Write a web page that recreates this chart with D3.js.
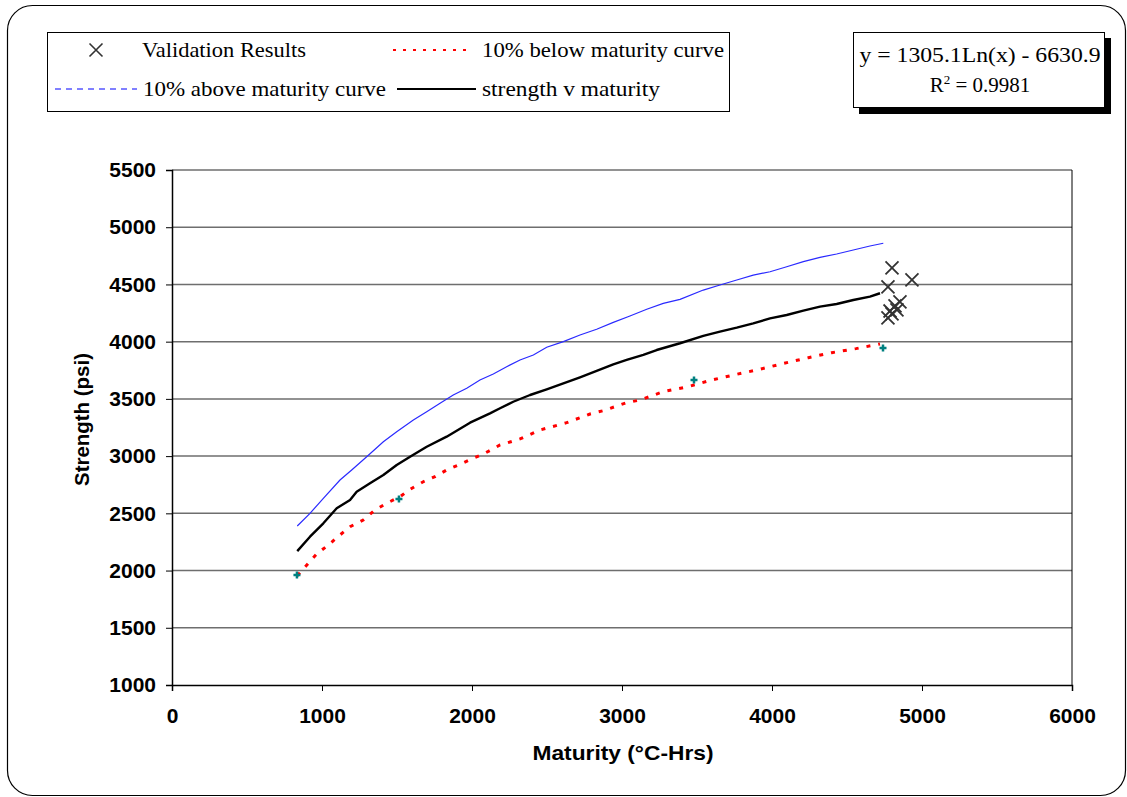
<!DOCTYPE html>
<html>
<head>
<meta charset="utf-8">
<script src="https://cdn.jsdelivr.net/npm/d3@7"></script>
<style>
  body { margin: 0; background: #fff; }
  svg { display: block; }
  .tick-label { font-family: "Liberation Sans", Arial, sans-serif; font-weight: bold; font-size: 21px; }
  .axis-title { font-family: "Liberation Sans", Arial, sans-serif; font-weight: bold; font-size: 21px; }
  .legend-text { font-family: "Liberation Serif", "Times New Roman", serif; font-size: 21px; }
</style>
</head>
<body>
<div id="chart"></div>
<script>
// strength v maturity (measured curve) - maturity in °C-Hrs, strength in psi
const strengthMaturity = [835, 920, 1009, 1098, 1187, 1231, 1320, 1409, 1498, 1587, 1698, 1831, 1987, 2120,
  2187, 2275, 2387, 2498, 2609, 2720, 2831, 2942, 3031, 3142, 3231, 3387, 3542, 3653, 3765, 3875, 3987,
  4098, 4209, 4320, 4431, 4542, 4653, 4720];
const strengthValues = [2170, 2296, 2413, 2544, 2617, 2689, 2762, 2835, 2922, 2995, 3082, 3170, 3292, 3374,
  3418, 3475, 3534, 3584, 3636, 3689, 3744, 3802, 3840, 3884, 3927, 3986, 4050, 4087, 4122, 4160, 4204,
  4233, 4271, 4306, 4329, 4364, 4393, 4423];

// 10% above maturity curve
const aboveMaturity = [835, 920, 1009, 1120, 1198, 1298, 1409, 1498, 1609, 1698, 1787, 1875, 1965, 2053,
  2142, 2231, 2320, 2409, 2498, 2609, 2720, 2831, 2942, 3053, 3165, 3275, 3387, 3542, 3653, 3765, 3875,
  3987, 4098, 4209, 4320, 4431, 4542, 4653, 4742];
const aboveValues = [2389, 2500, 2631, 2791, 2879, 2995, 3126, 3213, 3316, 3388, 3462, 3534, 3593, 3665,
  3718, 3781, 3840, 3884, 3951, 4000, 4058, 4108, 4169, 4224, 4283, 4335, 4370, 4451, 4495, 4539, 4582,
  4611, 4655, 4699, 4737, 4766, 4801, 4836, 4860];

// 10% below maturity curve
const belowMaturity = [835, 965, 1042, 1120, 1187, 1275, 1353, 1431, 1520, 1587, 1675, 1753, 1831, 1920,
  1998, 2075, 2187, 2320, 2453, 2631, 2787, 2875, 3031, 3120, 3275, 3442, 3598, 3765, 3920, 4080, 4242,
  4398, 4560, 4720];
const belowValues = [1955, 2145, 2223, 2311, 2383, 2442, 2529, 2588, 2645, 2710, 2776, 2820, 2879, 2928,
  2975, 3018, 3097, 3150, 3228, 3292, 3368, 3397, 3467, 3490, 3563, 3607, 3665, 3715, 3759, 3811, 3860,
  3904, 3939, 3980];

// small cross markers on the lower curve
const markerMaturity = [833, 1513, 3480, 4740];
const markerValues = [1961, 2625, 3665, 3945];

// validation results
const validationMaturity = [4800, 4933, 4773, 4853, 4820, 4787, 4800, 4773, 4833];
const validationValues = [4644, 4539, 4478, 4347, 4312, 4268, 4242, 4207, 4277];

const xTicks = [0, 1000, 2000, 3000, 4000, 5000, 6000];
const yTicks = [1000, 1500, 2000, 2500, 3000, 3500, 4000, 4500, 5000, 5500];

const legendLabels = ["Validation Results", "10% below maturity curve", "10% above maturity curve", "strength v maturity"];
const equationLines = ["y = 1305.1Ln(x) - 6630.9", "0.9981"];

//make margins
const W = 1127, H = 797;
const margin = {top: 170, right: 55, bottom: 112, left: 172};
const width = W - margin.left - margin.right;
const height = H - margin.top - margin.bottom;

const svg = d3.select("#chart")
  .append("svg")
  .attr("width", W)
  .attr("height", H);

// outer rounded frame
svg.append("rect")
  .attr("x", 7.5).attr("y", 5.5)
  .attr("width", 1118).attr("height", 790)
  .attr("rx", 25).attr("ry", 25)
  .attr("fill", "none")
  .attr("stroke", "#000")
  .attr("stroke-width", 1.2);

const x = d3.scaleLinear().domain([0, 6000]).range([0, width]);
const y = d3.scaleLinear().domain([1000, 5500]).range([height, 0]);

const g = svg.append("g")
  .attr("transform", `translate(${margin.left},${margin.top})`);

//gridlines
g.append("g")
  .selectAll("line")
  .data(yTicks.slice(1))
  .join("line")
  .attr("x1", 0).attr("x2", width)
  .attr("y1", d => y(d)).attr("y2", d => y(d))
  .attr("stroke", "#6e6e6e")
  .attr("stroke-width", 1.5);

// right border of the plot area
g.append("line")
  .attr("x1", width).attr("x2", width)
  .attr("y1", 0).attr("y2", height)
  .attr("stroke", "#000").attr("stroke-width", 1);

//axes
const xAxis = g.append("g")
  .attr("transform", `translate(0,${height})`)
  .call(d3.axisBottom(x).tickValues(xTicks).tickSize(6).tickPadding(17).tickFormat(d3.format("d")));
const yAxis = g.append("g")
  .call(d3.axisLeft(y).tickValues(yTicks).tickSize(6).tickPadding(10).tickFormat(d3.format("d")));

[xAxis, yAxis].forEach(a => {
  a.select(".domain").attr("stroke", "#000").attr("stroke-width", 1.5);
  a.selectAll(".tick line").attr("stroke", "#000");
  a.selectAll(".tick text").attr("class", "tick-label").attr("fill", "#000");
});

//axis titles
svg.append("text")
  .attr("class", "axis-title")
  .attr("x", margin.left + width / 2 + 1)
  .attr("y", 760)
  .attr("text-anchor", "middle")
  .attr("textLength", 181)
  .attr("lengthAdjust", "spacingAndGlyphs")
  .text("Maturity (°C-Hrs)");

svg.append("text")
  .attr("class", "axis-title")
  .attr("transform", `translate(89,${margin.top + height / 2 - 8}) rotate(-90)`)
  .attr("text-anchor", "middle")
  .attr("textLength", 133)
  .attr("lengthAdjust", "spacingAndGlyphs")
  .text("Strength (psi)");

const line = d3.line().x(d => x(d[0])).y(d => y(d[1]));

// curves
g.append("path")
  .datum(d3.zip(aboveMaturity, aboveValues))
  .attr("fill", "none")
  .attr("stroke", "#2a2aff")
  .attr("stroke-width", 1.2)
  .attr("d", line);

g.append("path")
  .datum(d3.zip(belowMaturity, belowValues))
  .attr("fill", "none")
  .attr("stroke", "#ff0000")
  .attr("stroke-width", 3)
  .attr("stroke-dasharray", "4 8")
  .attr("d", line);

g.append("path")
  .datum(d3.zip(strengthMaturity, strengthValues))
  .attr("fill", "none")
  .attr("stroke", "#000")
  .attr("stroke-width", 2.4)
  .attr("stroke-linejoin", "round")
  .attr("d", line);

// teal plus markers
const plus = 3.5;
g.append("g")
  .selectAll("path")
  .data(d3.zip(markerMaturity, markerValues))
  .join("path")
  .attr("d", d => `M${x(d[0]) - plus},${y(d[1])}h${plus * 2}M${x(d[0])},${y(d[1]) - plus}v${plus * 2}`)
  .attr("stroke", "#008080")
  .attr("stroke-width", 2.5);

// X markers
const cross = 6.5;
const crossPath = (cx, cy) => `M${cx - cross},${cy - cross}L${cx + cross},${cy + cross}M${cx - cross},${cy + cross}L${cx + cross},${cy - cross}`;
g.append("g")
  .selectAll("path")
  .data(d3.zip(validationMaturity, validationValues))
  .join("path")
  .attr("d", d => crossPath(x(d[0]), y(d[1])))
  .attr("stroke", "#333")
  .attr("stroke-width", 1.8);

//legend box
const legend = svg.append("g");
legend.append("rect")
  .attr("x", 47.5).attr("y", 32.5)
  .attr("width", 682).attr("height", 79)
  .attr("fill", "#fff").attr("stroke", "#000").attr("stroke-width", 1);

legend.append("path")
  .attr("d", crossPath(96, 50))
  .attr("stroke", "#333").attr("stroke-width", 1.6);
legend.append("line")
  .attr("x1", 393).attr("x2", 471).attr("y1", 50).attr("y2", 50)
  .attr("stroke", "#ff0000").attr("stroke-width", 2).attr("stroke-dasharray", "3 7");
legend.append("line")
  .attr("x1", 55).attr("x2", 137).attr("y1", 89).attr("y2", 89)
  .attr("stroke", "#0000ff").attr("stroke-width", 1).attr("stroke-dasharray", "6 5");
legend.append("line")
  .attr("x1", 397).attr("x2", 476).attr("y1", 89).attr("y2", 89)
  .attr("stroke", "#000").attr("stroke-width", 2.2);

// label positions and widths as in the picture
const legendPos = [[142, 57, 164], [482, 57, 242], [143, 96, 243], [482, 96, 178]];
legend.selectAll(".legend-label")
  .data(legendLabels)
  .join("text")
  .attr("class", "legend-text")
  .attr("x", (d, i) => legendPos[i][0])
  .attr("y", (d, i) => legendPos[i][1])
  .attr("textLength", (d, i) => legendPos[i][2])
  .attr("lengthAdjust", "spacingAndGlyphs")
  .text(d => d);

//equation box with shadow
const eq = svg.append("g");
eq.append("rect")
  .attr("x", 859).attr("y", 38)
  .attr("width", 252).attr("height", 76)
  .attr("fill", "#000");
eq.append("rect")
  .attr("x", 853.5).attr("y", 32.5)
  .attr("width", 251).attr("height", 75)
  .attr("fill", "#fff").attr("stroke", "#000").attr("stroke-width", 1);
eq.append("text")
  .attr("class", "legend-text")
  .attr("x", 980).attr("y", 62)
  .attr("text-anchor", "middle")
  .attr("textLength", 241)
  .attr("lengthAdjust", "spacingAndGlyphs")
  .text(equationLines[0]);
const r2 = eq.append("text")
  .attr("class", "legend-text")
  .attr("x", 980).attr("y", 92)
  .attr("text-anchor", "middle");
r2.append("tspan").text("R");
r2.append("tspan").attr("dy", -8).style("font-size", "13px").text("2");
r2.append("tspan").attr("dy", 8).text(" = " + equationLines[1]);
</script>
</body>
</html>
